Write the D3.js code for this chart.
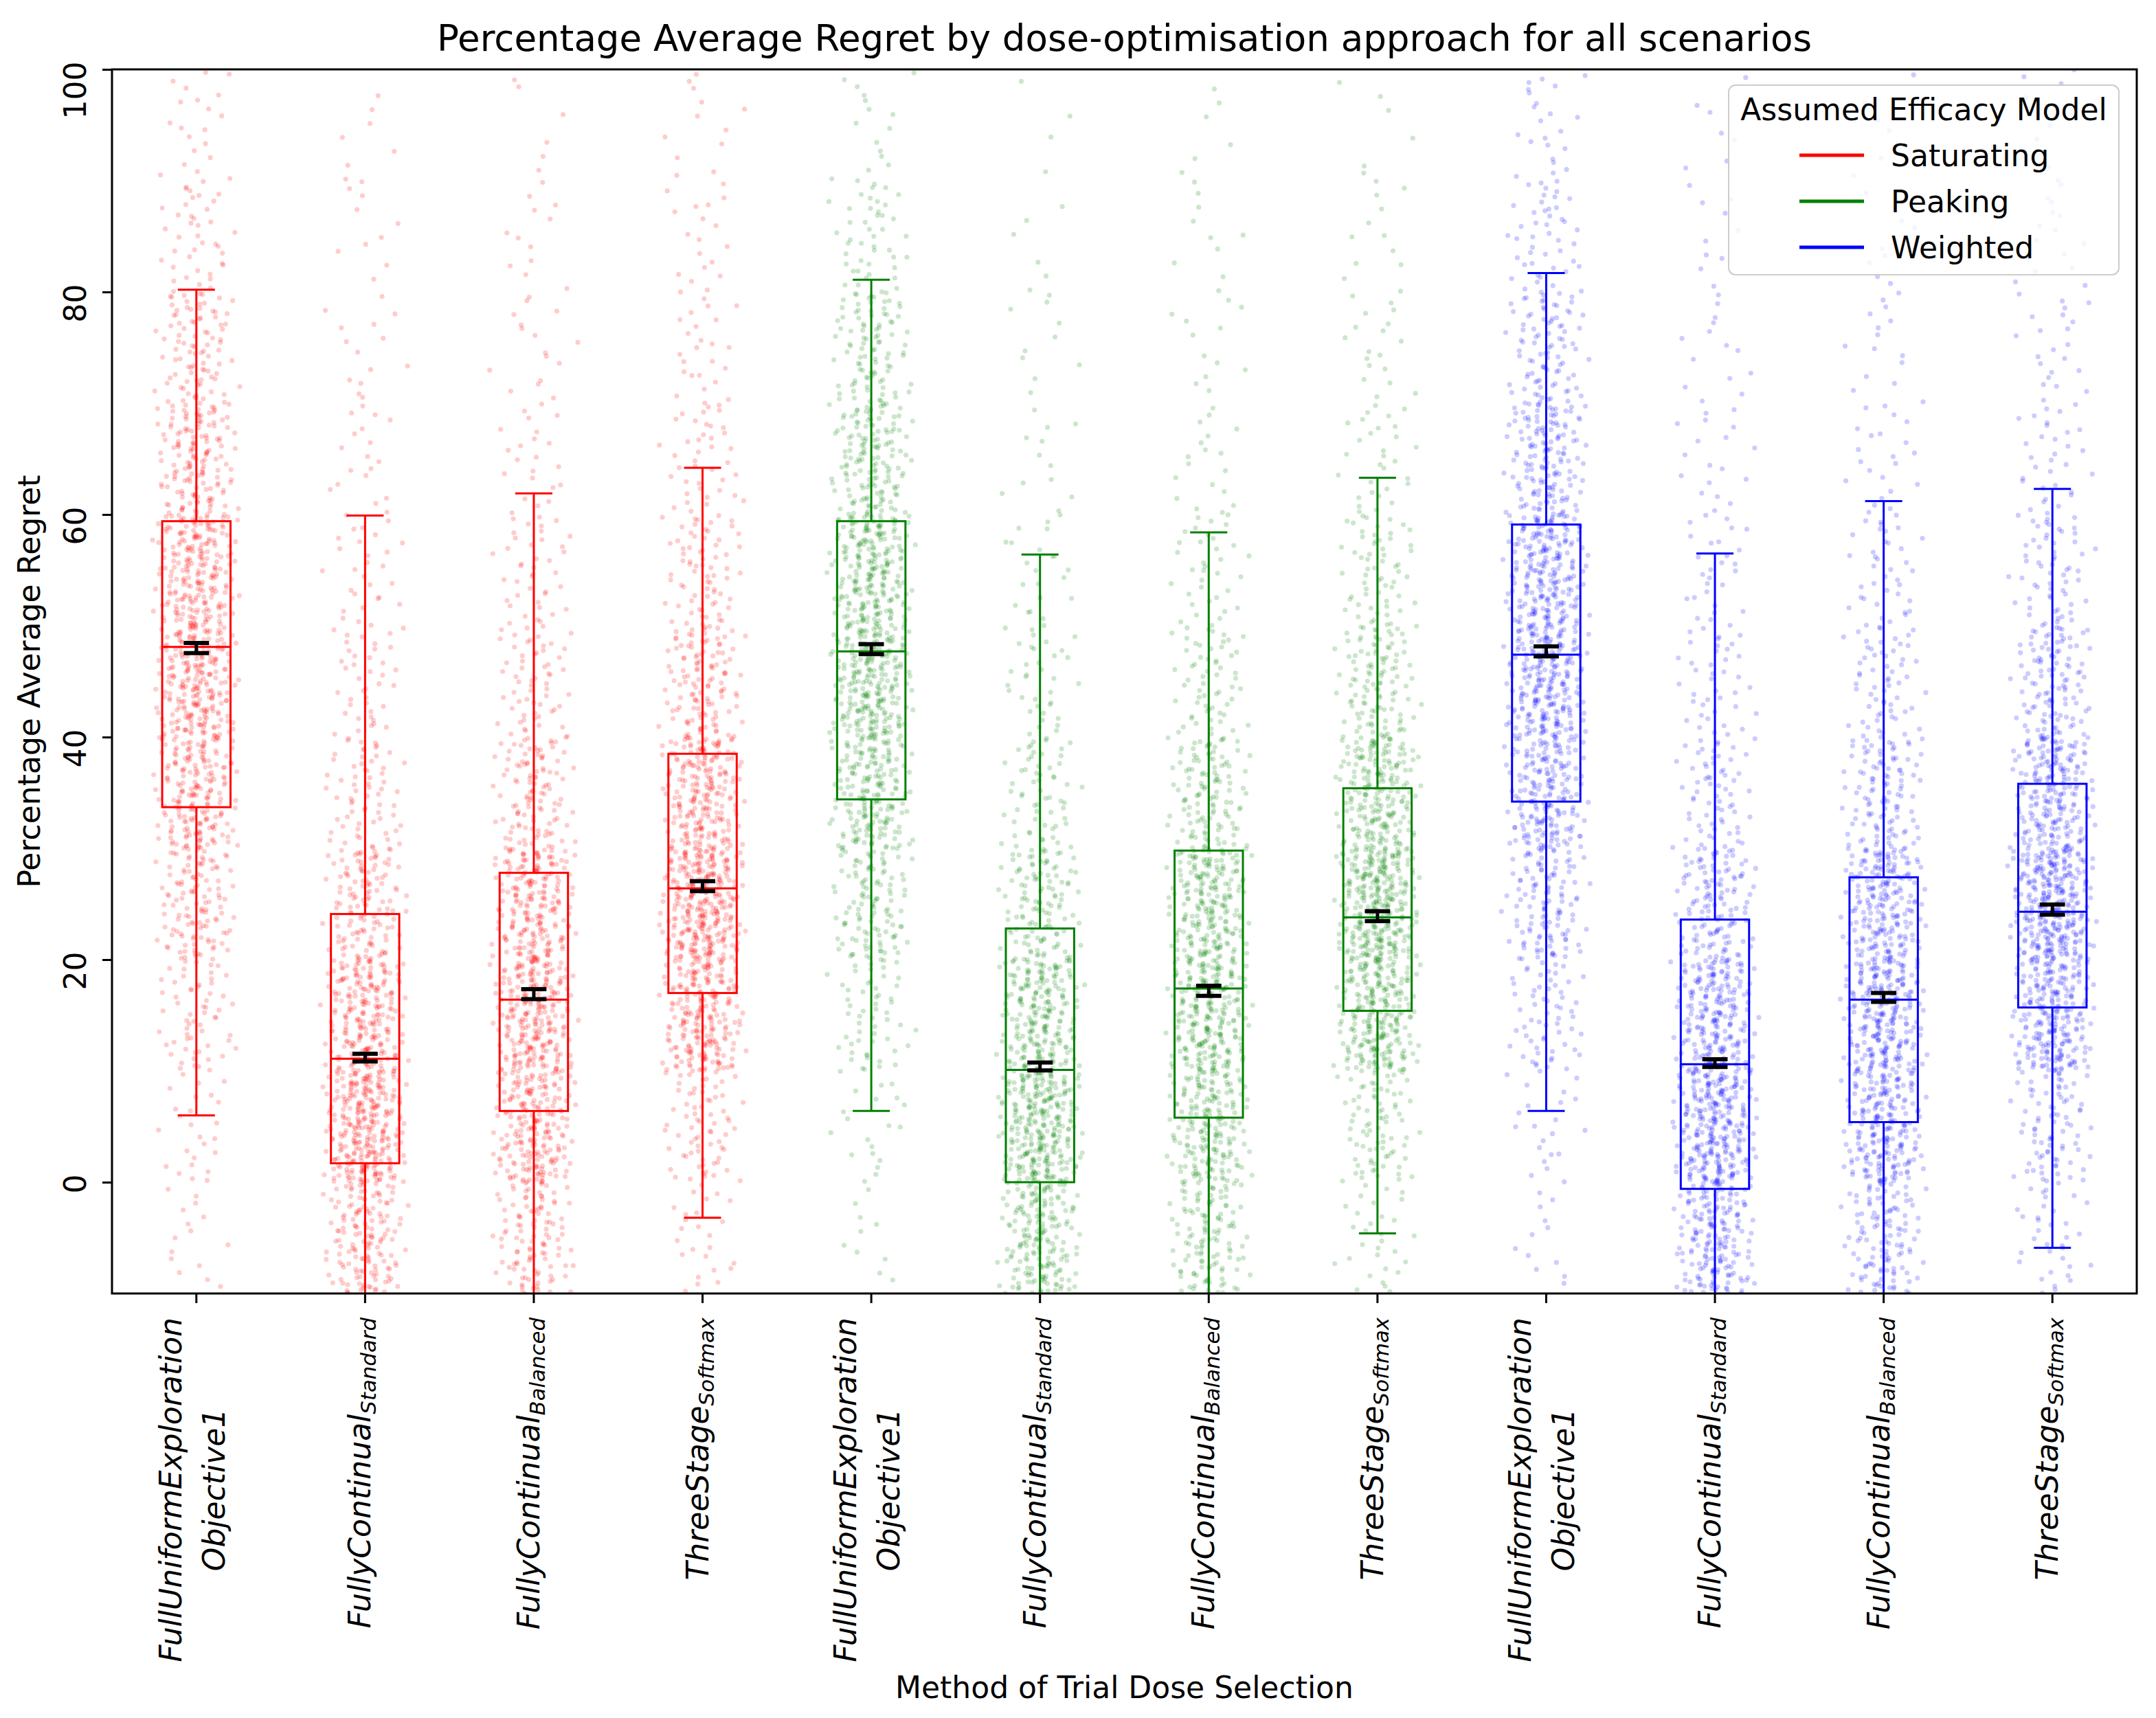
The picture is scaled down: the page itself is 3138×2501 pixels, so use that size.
<!DOCTYPE html>
<html>
<head>
<meta charset="utf-8">
<script src="https://cdn.jsdelivr.net/npm/d3@7"></script>
<style>
  body { margin: 0; background: #fff; }
  text { font-family: "DejaVu Sans", sans-serif; fill: #000; }
</style>
</head>
<body>
<div id="chart"></div>
<script>
// ---- data ----
const models = ["Saturating", "Peaking", "Weighted"];
const methodNames = ["FullUniformExploration", "FullyContinual", "FullyContinual", "ThreeStage"];
const methodSubs = ["", "Standard", "Balanced", "Softmax"];
const methodLine2 = ["Objective1", "", "", ""];
const yTicks = [0, 20, 40, 60, 80, 100];

// one entry per box, order: Saturating x4, Peaking x4, Weighted x4
const whiskerLow  = [6.0, -30, -25, -3.2, 6.4, -34, -30, -4.6, 6.4, -36, -28, -5.9];
const q1          = [33.7, 1.7, 6.4, 17.0, 34.4, 0.0, 5.8, 15.4, 34.2, -0.6, 5.4, 15.7];
const medians     = [48.1, 11.1, 16.4, 26.4, 47.7, 10.1, 17.4, 23.8, 47.4, 10.6, 16.4, 24.3];
const q3          = [59.4, 24.1, 27.8, 38.5, 59.4, 22.8, 29.8, 35.4, 59.1, 23.6, 27.4, 35.8];
const whiskerHigh = [80.2, 59.9, 61.9, 64.2, 81.1, 56.4, 58.4, 63.3, 81.7, 56.5, 61.2, 62.3];
const means       = [48.0, 11.2, 16.9, 26.6, 47.9, 10.4, 17.2, 23.9, 47.7, 10.7, 16.6, 24.5];
const meanErr     = [0.45, 0.35, 0.45, 0.45, 0.45, 0.35, 0.45, 0.45, 0.45, 0.35, 0.4, 0.45];

// rough count of scatter points per 10-unit band (-10..100), estimated per box
const binEdges = [-10, 0, 10, 20, 30, 40, 50, 60, 70, 80, 90, 100];
const pointCounts = [
  [15, 25, 60, 120, 200, 250, 230, 150, 90, 40, 20],
  [150, 310, 230, 130, 65, 40, 28, 18, 14, 10, 7],
  [110, 220, 260, 220, 110, 60, 40, 22, 16, 12, 6],
  [25, 70, 240, 330, 230, 120, 70, 40, 25, 18, 12],
  [10, 20, 55, 115, 200, 260, 240, 150, 95, 45, 15],
  [190, 300, 230, 120, 60, 35, 22, 12, 10, 6, 4],
  [120, 200, 250, 230, 120, 60, 35, 18, 12, 10, 6],
  [30, 80, 260, 330, 220, 110, 60, 30, 18, 12, 6],
  [12, 22, 60, 120, 200, 255, 235, 150, 90, 45, 22],
  [190, 290, 230, 130, 65, 40, 28, 18, 14, 10, 7],
  [120, 220, 260, 220, 110, 60, 38, 22, 15, 10, 6],
  [35, 80, 250, 330, 220, 110, 60, 32, 22, 15, 10]
];

// ---- layout ----
const W = 3138, H = 2501;
const plot = {left: 163, right: 3110, top: 101, bottom: 1883};
const colors = ["#ff0000", "#008000", "#0000ff"];
const fs = 44;

const svg = d3.select("#chart").append("svg")
  .attr("width", W).attr("height", H);

svg.append("rect").attr("width", W).attr("height", H).attr("fill", "#fff");

svg.append("defs").append("clipPath").attr("id", "plotClip")
  .append("rect")
  .attr("x", plot.left).attr("y", plot.top)
  .attr("width", plot.right - plot.left).attr("height", plot.bottom - plot.top);

// Scales
const boxIds = d3.range(12);
const x = d3.scaleBand().domain(boxIds).range([plot.left, plot.right]).padding(0);
const y = d3.scaleLinear().domain([-10, 100]).range([plot.bottom, plot.top]);
const bw = x.bandwidth();
const cx = i => x(i) + bw / 2;
const colorOf = i => colors[Math.floor(i / 4)];

// Scatter cloud: counts per band come from the picture; inside a band the
// points are spread with Halton sequences (no random numbers)
function halton(i, b) {
  let f = 1, r = 0;
  while (i > 0) { f /= b; r += f * (i % b); i = Math.floor(i / b); }
  return r;
}
const pts = [];
boxIds.forEach(i => {
  let g = i * 1500 + 1;
  pointCounts[i].forEach((n, b) => {
    for (let k = 0; k < n; k++, g++) {
      const v = halton(g, 2), u = halton(g, 3), w = halton(g, 5);
      pts.push({i, val: binEdges[b] + (binEdges[b + 1] - binEdges[b]) * v, jit: (u + w - 1) * 0.27});
    }
  });
});

const cloud = svg.append("g").attr("clip-path", "url(#plotClip)");
cloud.selectAll("circle")
  .data(pts)
  .join("circle")
    .attr("cx", d => cx(d.i) + d.jit * bw)
    .attr("cy", d => y(d.val))
    .attr("r", 3.6)
    .attr("fill", d => colorOf(d.i))
    .attr("fill-opacity", 0.2);

// Boxes
const boxW = 0.405 * bw, capW = 0.22 * bw, errCapW = 0.15 * bw;
const boxes = svg.append("g").attr("clip-path", "url(#plotClip)")
  .selectAll("g.box")
  .data(boxIds)
  .join("g")
    .attr("class", "box")
    .attr("stroke", d => colorOf(d))
    .attr("stroke-width", 3)
    .attr("fill", "none");

boxes.append("rect")
  .attr("x", d => cx(d) - boxW / 2)
  .attr("y", d => y(q3[d]))
  .attr("width", boxW)
  .attr("height", d => y(q1[d]) - y(q3[d]));

boxes.append("line")
  .attr("x1", d => cx(d) - boxW / 2).attr("x2", d => cx(d) + boxW / 2)
  .attr("y1", d => y(medians[d])).attr("y2", d => y(medians[d]));

boxes.append("line")
  .attr("x1", cx).attr("x2", cx)
  .attr("y1", d => y(q3[d])).attr("y2", d => y(whiskerHigh[d]));
boxes.append("line")
  .attr("x1", cx).attr("x2", cx)
  .attr("y1", d => y(q1[d])).attr("y2", d => y(whiskerLow[d]));

boxes.append("line")
  .attr("x1", d => cx(d) - capW / 2).attr("x2", d => cx(d) + capW / 2)
  .attr("y1", d => y(whiskerHigh[d])).attr("y2", d => y(whiskerHigh[d]));
boxes.append("line")
  .attr("x1", d => cx(d) - capW / 2).attr("x2", d => cx(d) + capW / 2)
  .attr("y1", d => y(whiskerLow[d])).attr("y2", d => y(whiskerLow[d]));

// Mean with error bar
const errs = svg.append("g")
  .selectAll("g.err")
  .data(boxIds)
  .join("g")
    .attr("class", "err")
    .attr("stroke", "#000");

errs.append("line")
  .attr("x1", cx).attr("x2", cx)
  .attr("y1", d => y(means[d] - meanErr[d])).attr("y2", d => y(means[d] + meanErr[d]))
  .attr("stroke-width", 5);
[-1, 1].forEach(s => {
  errs.append("line")
    .attr("x1", d => cx(d) - errCapW / 2).attr("x2", d => cx(d) + errCapW / 2)
    .attr("y1", d => y(means[d] + s * meanErr[d])).attr("y2", d => y(means[d] + s * meanErr[d]))
    .attr("stroke-width", 6);
});

// Y axis
const yAxis = svg.append("g")
  .attr("transform", `translate(${plot.left},0)`)
  .call(d3.axisLeft(y).tickValues(yTicks).tickSize(14).tickFormat(d3.format("d")));
yAxis.select(".domain").remove();
yAxis.selectAll(".tick line").attr("stroke", "#000").attr("stroke-width", 3);
yAxis.selectAll(".tick text")
  .attr("font-size", fs)
  .attr("font-family", "DejaVu Sans")
  .attr("fill", "#000")
  .attr("x", 0).attr("dy", null).attr("y", 0)
  .attr("text-anchor", "end")
  .attr("transform", "translate(-38,-12) rotate(-90)");

// X axis
const xAxis = svg.append("g")
  .attr("transform", `translate(0,${plot.bottom})`)
  .call(d3.axisBottom(x).tickSize(14).tickFormat(""));
xAxis.select(".domain").remove();
xAxis.selectAll(".tick line").attr("stroke", "#000").attr("stroke-width", 3);
xAxis.selectAll(".tick text").remove();

xAxis.selectAll(".tick").each(function (d) {
  const m = d % 4;
  const t = d3.select(this);
  if (methodLine2[m]) {
    const l1 = t.append("text")
      .attr("font-size", fs).attr("font-style", "italic")
      .attr("text-anchor", "end")
      .attr("transform", "translate(-22,35) rotate(-90)")
      .text(methodNames[m]);
    const len = l1.node().getComputedTextLength();
    t.append("text")
      .attr("font-size", fs).attr("font-style", "italic")
      .attr("text-anchor", "middle")
      .attr("transform", `translate(41,${35 + len / 2}) rotate(-90)`)
      .text(methodLine2[m]);
  } else {
    const lab = t.append("text")
      .attr("font-size", fs).attr("font-style", "italic")
      .attr("text-anchor", "end")
      .attr("transform", "translate(8,35) rotate(-90)");
    lab.append("tspan").text(methodNames[m]);
    lab.append("tspan").attr("font-size", fs * 0.7).attr("dy", 8).text(methodSubs[m]);
  }
});

// Frame
svg.append("rect")
  .attr("x", plot.left).attr("y", plot.top)
  .attr("width", plot.right - plot.left).attr("height", plot.bottom - plot.top)
  .attr("fill", "none").attr("stroke", "#000").attr("stroke-width", 3);

// Titles
svg.append("text")
  .attr("x", (plot.left + plot.right) / 2).attr("y", 74)
  .attr("text-anchor", "middle").attr("font-size", 53)
  .text("Percentage Average Regret by dose-optimisation approach for all scenarios");

svg.append("text")
  .attr("x", (plot.left + plot.right) / 2).attr("y", 2472)
  .attr("text-anchor", "middle").attr("font-size", fs)
  .text("Method of Trial Dose Selection");

svg.append("text")
  .attr("transform", `translate(58,${(plot.top + plot.bottom) / 2}) rotate(-90)`)
  .attr("text-anchor", "middle").attr("font-size", fs)
  .text("Percentage Average Regret");

// Legend
const legend = svg.append("g").attr("transform", "translate(2516,124)");
legend.append("rect")
  .attr("width", 568).attr("height", 276).attr("rx", 10)
  .attr("fill", "#fff").attr("fill-opacity", 0.8)
  .attr("stroke", "#cccccc").attr("stroke-width", 2);
legend.append("text")
  .attr("x", 284).attr("y", 51)
  .attr("text-anchor", "middle").attr("font-size", fs)
  .text("Assumed Efficacy Model");
const items = legend.selectAll("g.item")
  .data(models)
  .join("g")
    .attr("class", "item")
    .attr("transform", (d, i) => `translate(0,${102 + i * 67})`);
items.append("line")
  .attr("x1", 103).attr("x2", 197)
  .attr("stroke", (d, i) => colors[i]).attr("stroke-width", 5);
items.append("text")
  .attr("x", 236).attr("y", 16)
  .attr("font-size", fs)
  .text(d => d);
</script>
</body>
</html>
